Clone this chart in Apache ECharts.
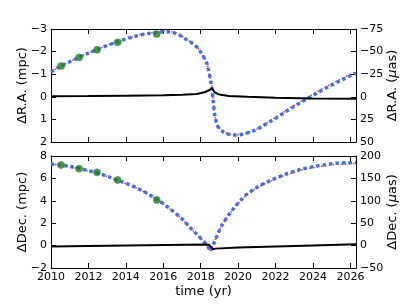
<!DOCTYPE html>
<html><head><meta charset="utf-8">
<script src="https://cdn.jsdelivr.net/npm/echarts@6/dist/echarts.min.js"></script>
<style>html,body{margin:0;padding:0;background:#fff}#c{width:407px;height:305px}</style>
</head><body><div id="c"></div>
<script>
// ---- data ----
const raYears = [2010.0,2010.5,2011.0,2011.5,2012.0,2012.5,2013.0,2013.5,2014.0,2014.5,2015.0,2015.5,2016.0,2016.4,2016.8,2017.2,2017.5,2017.8,2018.0,2018.2,2018.35,2018.5,2018.6,2018.67,2018.75,2018.86,2019.0,2019.2,2019.5,2019.8,2020.1,2020.5,2021.0,2021.5,2022.0,2022.5,2023.0,2023.5,2024.0,2024.5,2025.0,2025.5,2026.0,2026.3];
const raModelA = [-27.5,-33.8,-38.8,-43.8,-48.3,-52.5,-56.8,-60.5,-64,-67,-69.5,-71,-72,-72,-69.3,-63.8,-60,-55,-49.5,-42.5,-36,-21.3,-10,5,20,31,35.5,38.8,41.5,42.3,42,40,36.3,30,23.8,17,10.5,4.5,-1.5,-7.5,-13,-18.3,-23.3,-26];
const raModelB = [-27.8,-34,-39,-44,-48.5,-52.7,-57,-60.7,-64.2,-67.2,-69.7,-71.2,-72.2,-72.2,-69.5,-64,-60.3,-55.3,-49.8,-42.8,-36.3,-21.6,-10.3,4.7,19.7,30.7,35.2,38.5,41.2,42,41.7,39.7,35.8,29.4,23,16,9.5,3.4,-2.7,-8.8,-14.4,-19.8,-25,-27.8];
const raLensYears = [2010,2012,2014,2016,2017,2017.8,2018.2,2018.45,2018.6,2018.75,2019.0,2019.5,2020.5,2022,2024,2026.3];
const raLens = [-0.02,-0.03,-0.05,-0.07,-0.09,-0.12,-0.2,-0.29,-0.38,-0.2,-0.1,-0.04,0.0,0.04,0.07,0.09];
const obsYears = [2010.54,2011.5,2012.46,2013.56,2015.65];
const raObs = [-1.36,-1.74,-2.08,-2.41,-2.78];
const decObs = [7.2,6.87,6.54,5.86,4.07];
const decYears = [2010,2010.5,2011,2011.5,2012,2012.5,2013,2013.5,2014,2014.5,2015,2015.5,2016,2016.5,2017,2017.5,2017.9,2018.25,2018.4,2018.52,2018.62,2018.78,2019.04,2019.25,2019.5,2019.9,2020.4,2020.8,2021.1,2021.8,2022.5,2023.4,2024.3,2025.2,2025.8,2026.3];
const decModelA = [182,180,176.8,172.5,167.5,161.8,155,147,139.3,130.5,120,107.5,93.8,77.5,60,37.5,20.8,5,-3,-12.5,-2.5,12.5,38.5,53.8,68.8,90.5,112.5,124.5,132.5,147,158.8,171,178.5,183.8,185,185.5];
const decModelB = [181.5,179.5,176.3,172,167,161.3,154.5,146.5,138.8,130,119.5,107,93.3,77,59.5,37,20.3,4.5,-3.5,-13,-3,12,38,53.3,68.3,90,111.5,123.5,131.3,145.5,157,169,176.3,181.3,182.5,183];
const decLensYears = [2010,2014,2018.3,2018.45,2018.65,2018.8,2020,2022,2024,2026.3];
const decLens = [-0.08,0.0,0.1,0.07,-0.32,-0.27,-0.18,-0.08,0.02,0.12];
const raMpcTicks = {min:-3,max:2,interval:1};
const raUasTicks = {min:-75,max:50,interval:25};
const decMpcTicks = {min:-2,max:8,interval:2};
const decUasTicks = {min:-50,max:200,interval:50};
const yearTicks = {min:2010,max:2026.3,interval:2};

// ---- chart ----
const zip = (xs, ys) => xs.map((x, i) => [x, ys[i]]);
const minus = v => String(v).replace('-', '\u2212');
const FONT = 'DejaVu Sans';
const lineC = '#000';
const tick = {show:true, inside:true, length:5, lineStyle:{color:lineC, width:1}};
const axLine = {show:true, onZero:false, lineStyle:{color:lineC, width:1}};
const lab = {fontFamily:FONT, fontSize:11, color:'#000'};

function xAx(grid, pos, labels) {
  return {type:'value', gridIndex:grid, position:pos, min:yearTicks.min, max:yearTicks.max, interval:yearTicks.interval,
    axisLine:axLine, axisTick:tick, splitLine:{show:false},
    axisLabel: labels ? Object.assign({show:true, margin:4, showMaxLabel:false,
      formatter: v => (Math.abs(v - Math.round(v)) < 1e-6 && Math.round(v) % 2 === 0) ? String(Math.round(v)) : ''}, lab) : {show:false},
    name: labels ? 'time (yr)' : '', nameLocation:'middle', nameGap:17, nameMoveOverlap:false,
    nameTextStyle:{fontFamily:FONT, fontSize:13, color:'#000'}};
}
function yAx(grid, pos, t, inv, name) {
  return {type:'value', gridIndex:grid, position:pos, min:t.min, max:t.max, interval:t.interval, inverse:inv,
    axisLine:axLine, axisTick:tick, splitLine:{show:false},
    axisLabel:Object.assign({margin:4, formatter:minus}, lab),
    name:name, nameLocation:'middle', nameGap: pos === 'left' ? 22 : 30, nameMoveOverlap:false,
    nameTextStyle:{fontFamily:FONT, fontSize:13, color:'#000',
      rich:{a:{fontFamily:FONT, fontSize:13, color:'#000'}, i:{fontFamily:FONT, fontSize:13, fontStyle:'italic', color:'#000'}}}};
}
const blue = '#3f6fe6', red = '#ec3a55', green = '#237a23';
function redLine(x, y, data) {
  return {type:'line', xAxisIndex:x, yAxisIndex:y, data:data, symbol:'none', z:2,
    lineStyle:{color:red, width:1.6, type:[1.5,2.5]}};
}
function blueLine(x, y, data) {
  return {type:'line', xAxisIndex:x, yAxisIndex:y, data:data, symbol:'none', z:3,
    lineStyle:{color:blue, width:3.4, type:[3.5,3], cap:'butt'}};
}
function blackLine(x, y, data) {
  return {type:'line', xAxisIndex:x, yAxisIndex:y, data:data, symbol:'none', z:4,
    lineStyle:{color:'#000', width:2}};
}
function dots(x, y, data) {
  return {type:'scatter', xAxisIndex:x, yAxisIndex:y, data:data, symbolSize:7, z:5,
    itemStyle:{color:green, borderColor:'#3a9a3a', borderWidth:0.8}};
}

const chart = echarts.init(document.getElementById('c'), null, {renderer:'canvas'});
chart.setOption({
  animation:false,
  backgroundColor:'#fff',
  grid:[{left:51, right:45, top:29, height:113}, {left:51, right:45, top:156, height:112}],
  xAxis:[xAx(0,'bottom',false), xAx(0,'top',false), xAx(1,'bottom',true), xAx(1,'top',false)],
  yAxis:[
    yAx(0,'left',raMpcTicks,true,'\u0394R.A. (mpc)'),
    yAx(0,'right',raUasTicks,true,'{a|\u0394R.A. (}{i|\u03bc}{a|as)}'),
    yAx(1,'left',decMpcTicks,false,'\u0394Dec. (mpc)'),
    yAx(1,'right',decUasTicks,false,'{a|\u0394Dec. (}{i|\u03bc}{a|as)}')
  ],
  series:[
    redLine(0,1,zip(raYears,raModelB)),
    blueLine(0,1,zip(raYears,raModelA)),
    blackLine(0,0,zip(raLensYears,raLens)),
    dots(0,0,zip(obsYears,raObs)),
    redLine(2,3,zip(decYears,decModelB)),
    blueLine(2,3,zip(decYears,decModelA)),
    blackLine(2,2,zip(decLensYears,decLens)),
    dots(2,2,zip(obsYears,decObs))
  ]
});
</script></body></html>
